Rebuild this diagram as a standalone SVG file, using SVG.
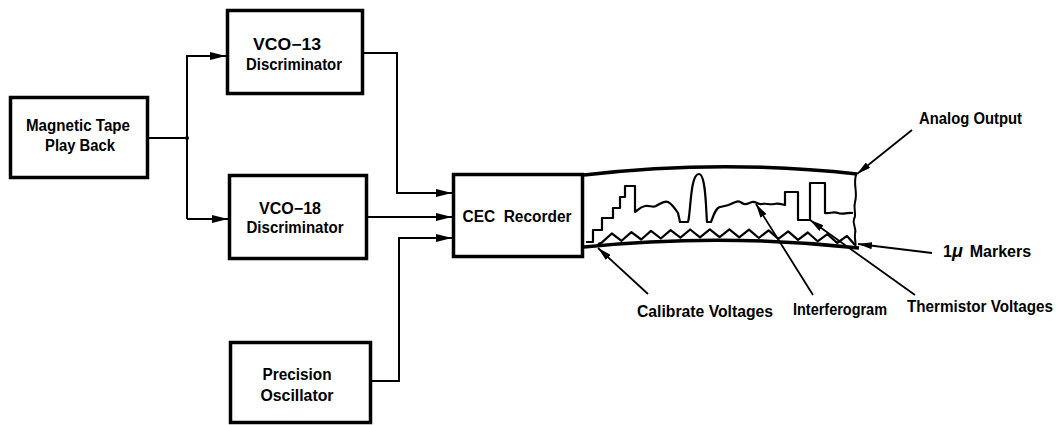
<svg xmlns="http://www.w3.org/2000/svg" width="1059" height="425" viewBox="0 0 1059 425">
<defs>
<style>
.box{fill:#fff;stroke:#000;stroke-width:3.5}
.lbl{font-family:"Liberation Sans",Arial,sans-serif;font-weight:bold;font-size:16px;fill:#000}
.wire{fill:none;stroke:#000;stroke-width:2}
.lead{fill:none;stroke:#000;stroke-width:1.8}
.edge{fill:none;stroke:#000;stroke-width:3.5}
.trace{fill:none;stroke:#000;stroke-width:2.2;stroke-linejoin:round}
</style>
<marker id="ah" viewBox="0 0 16 8" refX="16" refY="4" markerWidth="16" markerHeight="8" orient="auto" markerUnits="userSpaceOnUse"><path d="M0,0 L16,4 L0,8 z" fill="#000"/></marker>
<marker id="lh" viewBox="0 0 14 7" refX="14" refY="3.5" markerWidth="14" markerHeight="7" orient="auto" markerUnits="userSpaceOnUse"><path d="M0,0 L14,3.5 L0,7 z" fill="#000"/></marker>
</defs>
<rect width="1059" height="425" fill="#fff"/>

<g id="connectors">
<path class="wire" d="M148,138 H187"/>
<circle cx="187" cy="138" r="2" fill="#000"/>
<path class="wire" d="M187,219 V56 H226" marker-end="url(#ah)"/>
<path class="wire" d="M187,219 H228" marker-end="url(#ah)"/>
<path class="wire" d="M363,53 H397 V193 H452" marker-end="url(#ah)"/>
<path class="wire" d="M368,217 H452" marker-end="url(#ah)"/>
<path class="wire" d="M371,381 H399 V238 H452" marker-end="url(#ah)"/>
</g>

<g id="magnetic-tape">
<rect class="box" x="10.5" y="97.5" width="137" height="80"/>
<text class="lbl" x="78" y="131" text-anchor="middle" textLength="104" lengthAdjust="spacingAndGlyphs">Magnetic Tape</text>
<text class="lbl" x="80" y="151" text-anchor="middle" textLength="70" lengthAdjust="spacingAndGlyphs">Play Back</text>
</g>

<g id="vco13">
<rect class="box" x="227.5" y="10.5" width="135" height="83"/>
<text class="lbl" x="287" y="50" text-anchor="middle" textLength="68" lengthAdjust="spacingAndGlyphs">VCO−13</text>
<text class="lbl" x="294" y="70" text-anchor="middle" textLength="96" lengthAdjust="spacingAndGlyphs">Discriminator</text>
</g>

<g id="vco18">
<rect class="box" x="229.5" y="175.5" width="137" height="83"/>
<text class="lbl" x="290" y="214" text-anchor="middle" textLength="62" lengthAdjust="spacingAndGlyphs">VCO−18</text>
<text class="lbl" x="295" y="233" text-anchor="middle" textLength="97" lengthAdjust="spacingAndGlyphs">Discriminator</text>
</g>

<g id="precision-oscillator">
<rect class="box" x="230.5" y="342.5" width="140" height="80"/>
<text class="lbl" x="297" y="380" text-anchor="middle" textLength="69" lengthAdjust="spacingAndGlyphs">Precision</text>
<text class="lbl" x="297" y="401" text-anchor="middle" textLength="73" lengthAdjust="spacingAndGlyphs">Oscillator</text>
</g>

<g id="cec-recorder">
<rect class="box" x="453.5" y="174.5" width="129" height="82"/>
<text class="lbl" x="517" y="222" text-anchor="middle" textLength="109" lengthAdjust="spacingAndGlyphs" xml:space="preserve">CEC  Recorder</text>
</g>

<g id="strip-chart">
<path class="edge" d="M584,175 Q721,159 857,174"/>
<path class="edge" d="M584,247 Q721,233 859,248"/>
<path class="wire" d="M856,175 C853,185 858,192 855,202 C853,210 857,214 854,219 C852,224 857,228 855,234 C854,240 857,244 855,247"/>
<path class="trace" d="M586,242 L593,242 L593,230 L602,230 L602,218 L613,218 L613,208 L620,208 L620,197 L625,197 L625,186 L635,186 L635,212 C638,210 640,207 645,206 S652,208 656,206 S664,200 668,202 S676,210 678,213 L680,222 L688,222 C691,212 690,174 699,174 C706,174 706,212 707,222 L711,222 C714,214 716,208 720,207 S727,206 731,204 S738,200 742,203 S748,203 752,202 S758,205 762,204 S770,205 774,204 S781,204 785,205 L785,192 L798,192 L798,220 L810,220 L810,183 L825,183 L825,213 C830,214 833,211 838,213 S846,212 853,213"/>
<polyline class="trace" points="598,244 602,242.4 611.8,233.5 621.6,240.8 631.4,232.1 641.2,239.5 651,230.9 660.8,238.5 670.6,230.1 680.4,237.7 690.2,229.5 700,237.3 709.8,229.3 719.6,237.2 729.4,229.3 739.2,237.4 749,229.7 758.8,238 768.6,230.3 778.4,238.8 788.2,231.3 798,239.9 807.8,232.5 817.6,241.3 827.4,234.1 837.2,243 847,235.9 855,245"/>
</g>

<g id="labels">
<path class="lead" d="M912,130 L857,174" marker-end="url(#lh)"/>
<text class="lbl" x="919" y="124" textLength="103" lengthAdjust="spacingAndGlyphs">Analog Output</text>
<path class="lead" d="M932,253 L858,244" marker-end="url(#lh)"/>
<text class="lbl" x="943" y="257">1<tspan font-style="italic" font-size="18">μ</tspan><tspan dx="7">Markers</tspan></text>
<path class="lead" d="M648,294 L598,248" marker-end="url(#lh)"/>
<text class="lbl" x="637" y="317" textLength="136" lengthAdjust="spacingAndGlyphs">Calibrate Voltages</text>
<path class="lead" d="M813,295 L756,204" marker-end="url(#lh)"/>
<text class="lbl" x="793" y="315" textLength="94" lengthAdjust="spacingAndGlyphs">Interferogram</text>
<path class="lead" d="M915,295 L810,220" marker-end="url(#lh)"/>
<text class="lbl" x="907" y="312" textLength="146" lengthAdjust="spacingAndGlyphs">Thermistor Voltages</text>
</g>
</svg>
